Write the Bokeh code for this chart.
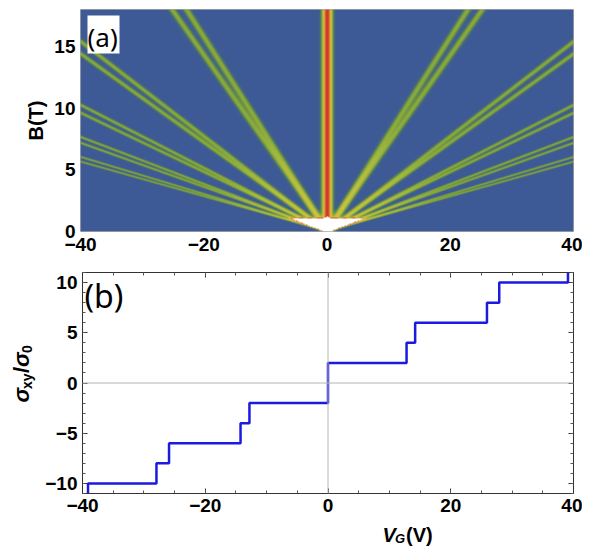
import numpy as np
from bokeh.plotting import figure
from bokeh.layouts import column, row
from bokeh.models import LinearColorMapper, FixedTicker, Label, Span, LinearAxis, BoxAnnotation
from bokeh.embed import file_html
from bokeh.resources import INLINE

# ---------------- data ----------------
# Landau-fan lines V = +/- s * B (slopes in V/T)
fan_slopes = [1.27, 1.40, 2.60, 2.78, 3.91, 4.17, 5.24, 5.59, 6.65, 7.10]
fan_amp = 0.25          # peak of one resolved level
zero_amp = 1.0          # peak of the (degenerate) zero-energy level
unresolved_B = 1.0      # below this field the levels are not resolved
unresolved_slope = 5.6  # edge of the unresolved wedge (V/T)

# Hall plateaus of panel (b): level sigma_xy/sigma_0 starting at each edge
hall_edges = [-40.0, -39.1, -27.95, -25.9, -14.25, -12.8, 0.0, 12.8, 14.2, 25.9, 27.9, 39.1, 40.0]
hall_levels = [-12, -10, -8, -6, -4, -2, 2, 4, 6, 8, 10, 12, 12]

vg_ticks = [-40, -20, 0, 20, 40]
b_ticks = [0, 5, 10, 15]
s_ticks = [-10, -5, 0, 5, 10]

# ---------------- density map ----------------
NX, NY = 986, 444
V = np.linspace(-40, 40, NX)
B = np.linspace(0, 18, NY)
VV, BB = np.meshgrid(V, B)
sig = 0.42
sig0 = 0.5
Z = zero_amp * np.exp(-0.5 * (VV / sig0) ** 2)
for s in fan_slopes:
    for sign in (-1, 1):
        Z += fan_amp * np.exp(-0.5 * ((VV - sign * s * BB) / sig) ** 2)

def sigm(x):
    return 1.0 / (1.0 + np.exp(-x))

Z += 3.0 * sigm((unresolved_B - BB) / 0.03) * sigm((unresolved_slope * BB - np.abs(VV)) / 0.25)
Z = Z.astype(np.float32)

stops = [0.00, 0.07, 0.15, 0.30, 0.50, 0.70, 0.88, 1.00]
cols = np.array([
    (62, 90, 150),
    (72, 106, 124),
    (106, 148, 64),
    (160, 184, 62),
    (214, 195, 66),
    (228, 158, 58),
    (214, 80, 46),
    (206, 56, 44),
], dtype=float)
tt = np.linspace(0, 1, 256)
palette = []
for t in tt:
    r = np.interp(t, stops, cols[:, 0])
    g = np.interp(t, stops, cols[:, 1])
    b = np.interp(t, stops, cols[:, 2])
    palette.append("#%02x%02x%02x" % (int(r), int(g), int(b)))
mapper = LinearColorMapper(palette=palette, low=0.0, high=1.0, high_color="#ffffff", low_color=palette[0])

TICK_FONT = "Liberation Sans"

def minus(v):
    return ("\u2212%d" % -v) if v < 0 else "%d" % v

def label_fig(w, h):
    f = figure(width=w, height=h, x_range=(0, 1), y_range=(0, 1), output_backend="svg",
               toolbar_location=None, x_axis_location=None, y_axis_location=None,
               min_border=0)
    f.grid.visible = False
    f.outline_line_color = None
    return f

# ---------------- panel (a) ----------------
p1 = figure(width=582, height=262, x_range=(-40, 40), y_range=(0, 18),
            output_backend="svg", toolbar_location=None,
            min_border_left=80, min_border_right=9, min_border_top=9, min_border_bottom=31)
p1.image(image=[Z], x=-40, y=0, dw=80, dh=18, color_mapper=mapper)
p1.grid.visible = False
p1.outline_line_color = "#a8a8a8"
p1.xaxis.ticker = FixedTicker(ticks=vg_ticks)
p1.yaxis.ticker = FixedTicker(ticks=b_ticks)
p1.xaxis.major_label_overrides = {v: minus(v) for v in vg_ticks}
for ax in (p1.xaxis[0], p1.yaxis[0]):
    ax.axis_line_color = None
    ax.major_tick_in = 0
    ax.major_tick_out = 0
    ax.minor_tick_line_color = None
    ax.major_label_text_font = TICK_FONT
    ax.major_label_text_font_style = "bold"
    ax.major_label_text_font_size = "19px"
    ax.major_label_text_color = "#000000"
p1.xaxis.major_label_standoff = 6
p1.yaxis.major_label_standoff = 5
p1.yaxis.axis_label = "B(T)"
p1.yaxis.axis_label_text_font = TICK_FONT
p1.yaxis.axis_label_text_font_style = "bold"
p1.yaxis.axis_label_text_font_size = "20px"
p1.yaxis.axis_label_text_color = "#000000"
p1.yaxis.axis_label_standoff = 4

p1.add_layout(BoxAnnotation(left=7, right=39, top=216, bottom=178,
                            left_units="screen", right_units="screen",
                            top_units="screen", bottom_units="screen",
                            fill_color="white", fill_alpha=1.0, line_color=None))
p1.add_layout(Label(x=7, y=213, x_units="screen", y_units="screen", text="(a)",
                    text_font="Noto Sans", text_font_size="26px", text_baseline="top",
                    text_align="left", text_color="#000000"))

# ---------------- panel (b) ----------------
p2 = figure(width=540, height=263, x_range=(-40, 40), y_range=(-11, 11),
            output_backend="svg", toolbar_location=None,
            min_border_left=38, min_border_right=9, min_border_top=10, min_border_bottom=32)
p2.grid.visible = False
p2.outline_line_color = "#333333"
p2.add_layout(Span(location=0, dimension="height", line_color="#b4b4b4", line_width=1))
p2.add_layout(Span(location=0, dimension="width", line_color="#b4b4b4", line_width=1))
p2.step(x=hall_edges, y=hall_levels, mode="after", line_color="#1a1ae0", line_width=2.5)

p2.xaxis.ticker = FixedTicker(ticks=vg_ticks, minor_ticks=list(range(-40, 41, 5)))
p2.yaxis.ticker = FixedTicker(ticks=s_ticks, minor_ticks=list(range(-11, 12)))
p2.add_layout(LinearAxis(ticker=FixedTicker(ticks=vg_ticks, minor_ticks=list(range(-40, 41, 5)))), "above")
p2.add_layout(LinearAxis(ticker=FixedTicker(ticks=s_ticks, minor_ticks=list(range(-11, 12)))), "right")
p2.xaxis[0].major_label_overrides = {v: minus(v) for v in vg_ticks}
p2.yaxis[0].major_label_overrides = {v: minus(v) for v in s_ticks}
for ax in p2.axis:
    ax.axis_line_color = "#333333"
    ax.major_tick_line_color = "#333333"
    ax.minor_tick_line_color = "#555555"
    ax.major_tick_in = 5
    ax.major_tick_out = 0
    ax.minor_tick_in = 3
    ax.minor_tick_out = 0
    ax.major_label_text_font = TICK_FONT
    ax.major_label_text_font_style = "bold"
    ax.major_label_text_font_size = "19px"
    ax.major_label_text_color = "#000000"
p2.xaxis[0].major_label_standoff = 10
p2.yaxis[0].major_label_standoff = 5
p2.above[0].major_label_overrides = {v: "" for v in vg_ticks}
p2.right[0].major_label_overrides = {v: "" for v in s_ticks}
for ax in (p2.above[0], p2.right[0]):
    ax.major_label_standoff = 0

p2.add_layout(Label(x=2, y=220, x_units="screen", y_units="screen", text="(b)",
                    text_font="Noto Sans", text_font_size="32px", text_baseline="top",
                    text_align="left", text_color="#000000"))

# y label: sigma_xy / sigma_0 (rotated, built from pieces)
lab2 = label_fig(42, 263)

def ylab(txt, y, sub=False, italic=False):
    return Label(x=26 if sub else 21, y=y, x_units="screen", y_units="screen", text=txt,
                 angle=90, angle_units="deg", text_align="left", text_baseline="alphabetic",
                 text_font=TICK_FONT, text_font_style="bold italic" if italic else "bold",
                 text_font_size="14px" if sub else "22px", text_color="#000000")

y0 = 91
lab2.add_layout(ylab("\u03c3", y0, italic=True))
lab2.add_layout(ylab("xy", y0 + 13.5, sub=True))
lab2.add_layout(ylab("/", y0 + 29.5))
lab2.add_layout(ylab("\u03c3", y0 + 35.5, italic=True))
lab2.add_layout(ylab("0", y0 + 49.5, sub=True))

# x label: V_G(V)
lab3 = label_fig(582, 25)

def xlab(txt, x, sub=False, italic=False):
    return Label(x=x, y=12 if sub else 15.5, x_units="screen", y_units="screen", text=txt,
                 text_align="left", text_baseline="alphabetic",
                 text_font=TICK_FONT, text_font_style="bold italic" if italic else "bold",
                 text_font_size="13px" if sub else "20px", text_color="#000000")

x0 = 302
lab3.add_layout(xlab("V", x0, italic=True))
lab3.add_layout(xlab("G", x0 + 12.5, sub=True, italic=True))
lab3.add_layout(xlab("(V)", x0 + 23.5))

layout = column(p1, row(lab2, p2), lab3)
open("out.html", "w").write(file_html(layout, INLINE))
